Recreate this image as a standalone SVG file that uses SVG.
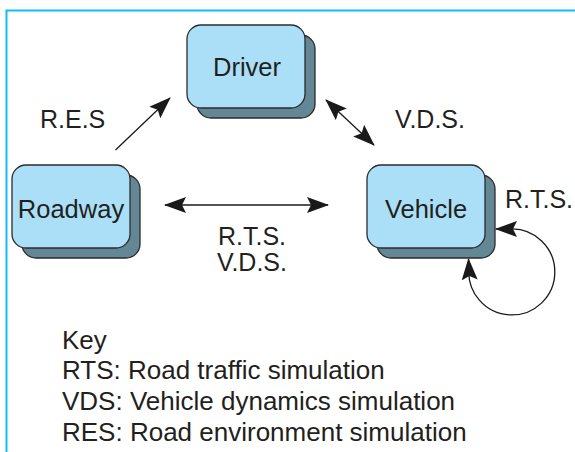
<svg xmlns="http://www.w3.org/2000/svg" width="575" height="452" viewBox="0 0 575 452">
<style>
.front{fill:#abdff8;stroke:#2b2b2b;stroke-width:1.3}
.shadow{fill:#648795;stroke:#2b2b2b;stroke-width:1.3}
text{font-family:"Liberation Sans",Arial,sans-serif;font-size:25px;fill:#231f20}
.node{font-size:25.5px}
.key{font-size:26px}
.conn{fill:none;stroke:#1a1a1a;stroke-width:1.3}
</style>
<defs>
<marker id="ah" viewBox="0 0 22 16" refX="21" refY="8" markerWidth="22" markerHeight="16" markerUnits="userSpaceOnUse" orient="auto-start-reverse">
<path d="M0,0 L22,8 L0,16 L4,8 z" fill="#1a1a1a"/>
</marker>
</defs>
<rect width="575" height="452" fill="#ffffff"/>
<path d="M6.5,452 V10.5 H575" fill="none" stroke="#10bdf5" stroke-width="2"/>
<g id="driver">
<rect class="shadow" x="197" y="35" width="118" height="83" rx="14"/>
<rect class="front" x="187" y="25" width="118" height="83" rx="14"/>
<text class="node" x="247" y="76" text-anchor="middle">Driver</text>
</g>
<g id="roadway">
<rect class="shadow" x="22" y="175" width="118" height="83" rx="14"/>
<rect class="front" x="12" y="165" width="118" height="83" rx="14"/>
<text class="node" x="71" y="218" text-anchor="middle">Roadway</text>
</g>
<g id="vehicle">
<rect class="shadow" x="377" y="175" width="118" height="83" rx="14"/>
<rect class="front" x="367" y="165" width="118" height="83" rx="14"/>
<text class="node" x="426" y="218" text-anchor="middle">Vehicle</text>
</g>
<g id="connectors">
<line class="conn" x1="115.5" y1="150" x2="170" y2="98" marker-end="url(#ah)"/>
<line class="conn" x1="326" y1="100" x2="374" y2="145" marker-start="url(#ah)" marker-end="url(#ah)"/>
<line class="conn" x1="165" y1="205" x2="328" y2="205" marker-start="url(#ah)" marker-end="url(#ah)"/>
<path class="conn" d="M496,229 L510,229 A43,43 0 1 1 469,268 L468.5,259" marker-start="url(#ah)" marker-end="url(#ah)"/>
</g>
<g id="labels">
<text x="40" y="128">R.E.S</text>
<text x="395" y="128">V.D.S.</text>
<text x="505" y="208">R.T.S.</text>
<text x="252" y="245" text-anchor="middle">R.T.S.</text>
<text x="252" y="271" text-anchor="middle">V.D.S.</text>
</g>
<g id="key">
<text class="key" x="62" y="349">Key</text>
<text class="key" x="62" y="379">RTS: Road traffic simulation</text>
<text class="key" x="62" y="410">VDS: Vehicle dynamics simulation</text>
<text class="key" x="62" y="441">RES: Road environment simulation</text>
</g>
</svg>
